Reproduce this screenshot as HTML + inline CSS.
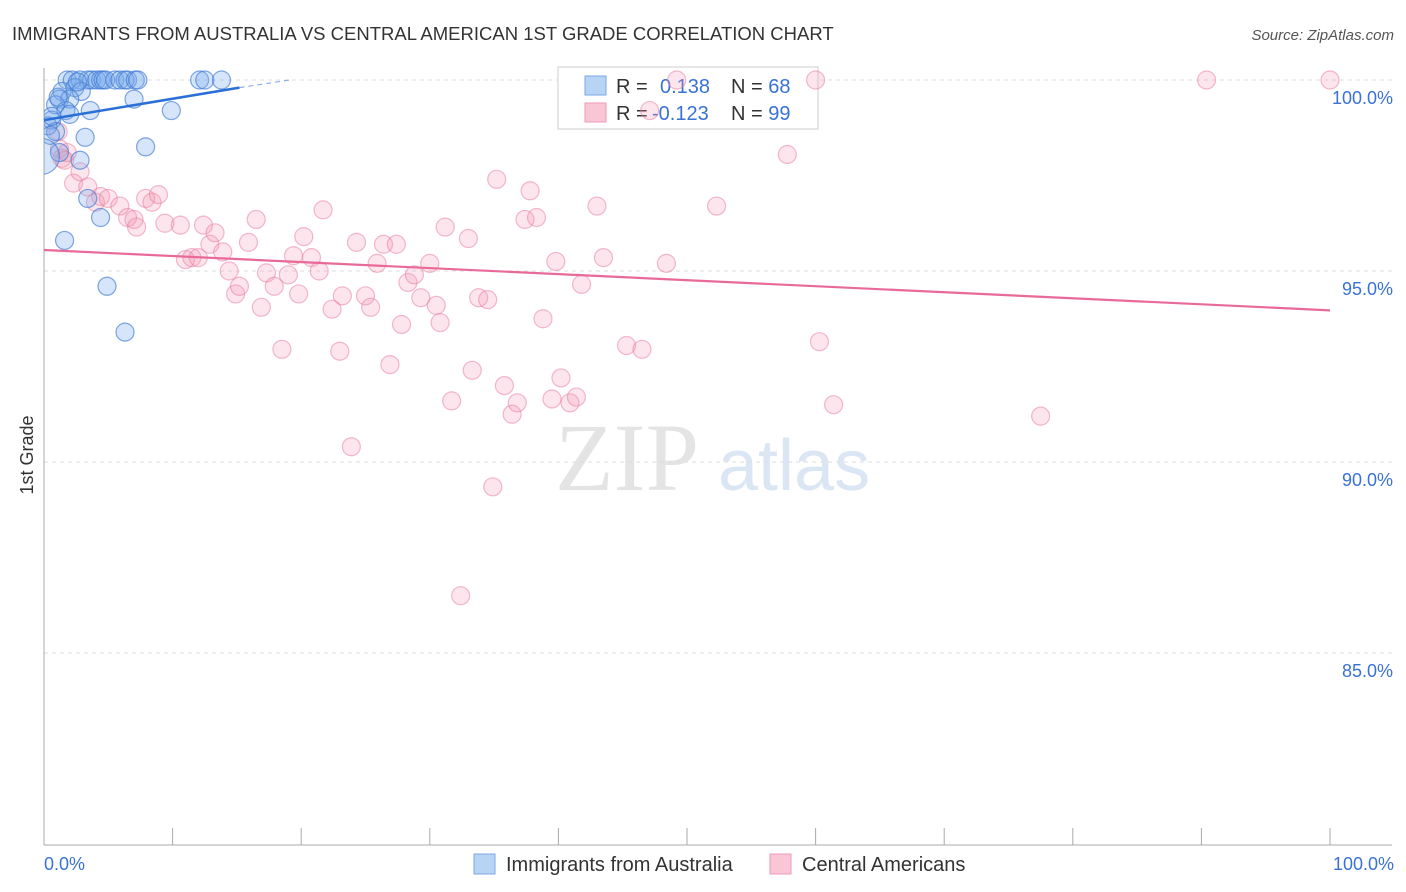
<!DOCTYPE html>
<html><head><meta charset="utf-8"><style>
body{margin:0;background:#fff;font-family:"Liberation Sans",sans-serif}
</style></head><body>
<svg id="c" width="1406" height="892" style="display:block">
<defs><clipPath id="plot"><rect x="44" y="60" width="1360" height="785"/></clipPath></defs>
<text x="12" y="40" font-size="18.5" fill="#333">IMMIGRANTS FROM AUSTRALIA VS CENTRAL AMERICAN 1ST GRADE CORRELATION CHART</text>
<text x="1394" y="40" font-size="15" fill="#555" font-style="italic" text-anchor="end">Source: ZipAtlas.com</text>
<text x="33" y="455" font-size="18" fill="#333" transform="rotate(-90 33 455)" text-anchor="middle">1st Grade</text>
<text x="555" y="490" font-size="96" fill="#e4e4e4" font-family="Liberation Serif">ZIP</text>
<text x="718" y="490" font-size="72" fill="#dbe6f5">atlas</text>
<g id="grid"></g>
<g>
<rect x="558" y="67" width="260" height="62" fill="#fff" stroke="#ccc"/>
<rect x="585" y="76" width="21" height="19" fill="#b8d4f5" stroke="#7aa8e6"/>
<rect x="585" y="103" width="21" height="19" fill="#f9c6d6" stroke="#ef9ab4"/>
<text x="616" y="93" font-size="20" fill="#333">R = <tspan fill="#3a72d4" x="660">0.138</tspan><tspan fill="#333" x="731">N = </tspan><tspan fill="#3a72d4">68</tspan></text>
<text x="616" y="120" font-size="20" fill="#333">R = <tspan fill="#3a72d4" x="652">-0.123</tspan><tspan fill="#333" x="731">N = </tspan><tspan fill="#3a72d4">99</tspan></text>
</g>
<g id="pts" clip-path="url(#plot)"></g><g id="lines"></g>
<g>
<rect x="474" y="854" width="21" height="20" fill="#b8d4f5" stroke="#7aa8e6"/>
<text x="506" y="871" font-size="20" fill="#333">Immigrants from Australia</text>
<rect x="770" y="854" width="21" height="20" fill="#f9c6d6" stroke="#ef9ab4"/>
<text x="802" y="871" font-size="20" fill="#333">Central Americans</text>
</g>
<text x="44" y="870" font-size="18" fill="#3a72d4">0.0%</text>
<text x="1394" y="870" font-size="18" fill="#3a72d4" text-anchor="end">100.0%</text>
</svg>
<script>
const yTicks=[100,95,90,85];
const yTickLabels=["100.0%","95.0%","90.0%","85.0%"];
const blueX=[1.8,2.2,2.8,3.4,3.7,4.1,4.4,4.6,4.8,5.5,5.9,6.3,6.5,7.1,7.3,12.1,12.5,13.8,1.4,2.4,2.9,1.2,2.0,0.9,1.7,0.6,2.0,3.6,7.0,9.9,0.3,0.9,3.2,7.9,0.5,1.2,2.8,3.4,4.4,1.6,4.9,6.3,-0.2,0.6,1.1,2.6];
const blueY=[100,100,100,100,100,100,100,100,100,100,100,100,100,100,100,100,100,100,99.7,99.8,99.7,99.5,99.5,99.35,99.2,98.95,99.1,99.2,99.5,99.2,98.8,98.65,98.5,98.25,98.55,98.1,97.9,96.9,96.4,95.8,94.6,93.4,98.0,99.05,99.55,99.95];
const blueR=[9,9,9,9,9,9,9,9,9,9,9,9,9,9,9,9,9,9,9,9,9,9,9,9,9,9,9,9,9,9,9,9,9,9,9,9,9,9,9,9,9,9,18,9,9,9];
const pinkX=[2.3,1.2,1.4,1.1,1.6,1.8,2.8,3.4,4.4,4.0,5.0,5.9,6.5,7.0,7.2,7.9,8.4,8.9,9.4,10.6,11.0,11.5,12.0,12.4,12.9,13.3,13.9,14.4,14.9,15.2,15.9,16.5,16.9,17.3,17.9,18.5,19.0,19.4,19.8,20.2,20.8,21.4,21.7,22.4,23.0,23.2,23.9,24.3,25.0,25.4,25.9,26.4,26.9,27.4,27.8,28.3,28.8,29.3,30.0,30.5,30.8,31.2,31.7,32.4,33.0,33.3,33.8,34.5,34.9,35.2,35.8,36.4,36.8,37.4,37.8,38.3,38.8,39.5,39.8,40.2,40.9,41.4,41.8,43.0,43.5,45.3,46.5,48.4,52.3,57.8,60.0,60.3,61.4,77.5,90.4,100,47.1,49.2];
const pinkY=[97.3,98.2,97.95,98.65,97.9,98.1,97.6,97.2,96.95,96.8,96.9,96.7,96.4,96.35,96.15,96.9,96.8,97.0,96.25,96.2,95.3,95.35,95.35,96.2,95.7,96.0,95.5,95.0,94.4,94.6,95.75,96.35,94.05,94.95,94.6,92.95,94.9,95.4,94.4,95.9,95.35,95.0,96.6,94.0,92.9,94.35,90.4,95.75,94.35,94.05,95.2,95.7,92.55,95.7,93.6,94.7,94.9,94.3,95.2,94.1,93.65,96.15,91.6,86.5,95.85,92.4,94.3,94.25,89.35,97.4,92.0,91.25,91.55,96.35,97.1,96.4,93.75,91.65,95.25,92.2,91.55,91.7,94.65,96.7,95.35,93.05,92.95,95.2,96.7,98.05,100,93.15,91.5,91.2,100,100,99.2,100];
const blueLine=[[0,98.95],[15.2,99.8]];
const blueDash=[[15.2,99.8],[19.1,100]];
const pinkLine=[[0,95.55],[100,93.97]];
const X=v=>44+v*12.86, Y=v=>80+(100-v)*38.2;
const NS="http://www.w3.org/2000/svg";
function mk(t,a,p){const e=document.createElementNS(NS,t);for(const k in a)e.setAttribute(k,a[k]);p.appendChild(e);return e;}
const grid=document.getElementById('grid');
yTicks.forEach((t,i)=>{
  const l=mk('line',{x1:44,x2:1392,y1:Y(t),y2:Y(t),stroke:'#ddd','stroke-dasharray':'4,4'},grid);
  
  
  const tx=mk('text',{x:1393,y:Y(t)+24,'font-size':18,fill:'#3a72d4','text-anchor':'end'},grid);
  tx.textContent=yTickLabels[i];
  
  
});
const ax=mk('line',{x1:44,x2:44,y1:68,y2:845,stroke:'#aaa'},grid);


const bx=mk('line',{x1:44,x2:1392,y1:845,y2:845,stroke:'#aaa'},grid);


for(let i=1;i<=10;i++){const t=mk('line',{x1:X(i*10),x2:X(i*10),y1:828,y2:845,stroke:'#aaa'},grid);
  
  }
const pts=document.getElementById('pts');
pinkX.forEach((x,i)=>{const c=mk('circle',{cx:X(x),cy:Y(pinkY[i]),r:9,fill:'rgba(244,150,180,0.25)',stroke:'rgba(232,120,155,0.5)','stroke-width':1.2},pts);
  
  });
blueX.forEach((x,i)=>{const c=mk('circle',{cx:X(x),cy:Y(blueY[i]),r:blueR[i],fill:'rgba(120,170,235,0.3)',stroke:'rgba(60,120,210,0.65)','stroke-width':1.2},pts);
  
  });
const lines=document.getElementById('lines');
const l1=mk('line',{x1:X(blueLine[0][0]),y1:Y(blueLine[0][1]),x2:X(blueLine[1][0]),y2:Y(blueLine[1][1]),stroke:'#2a6fd6','stroke-width':2.5},lines);


const l2=mk('line',{x1:X(blueDash[0][0]),y1:Y(blueDash[0][1]),x2:X(blueDash[1][0]),y2:Y(blueDash[1][1]),stroke:'#8ab0e8','stroke-width':1.2,'stroke-dasharray':'5,4'},lines);


const l3=mk('line',{x1:X(pinkLine[0][0]),y1:Y(pinkLine[0][1]),x2:X(pinkLine[1][0]),y2:Y(pinkLine[1][1]),stroke:'#e86a98','stroke-width':2.2},lines);


</script>
</body></html>
